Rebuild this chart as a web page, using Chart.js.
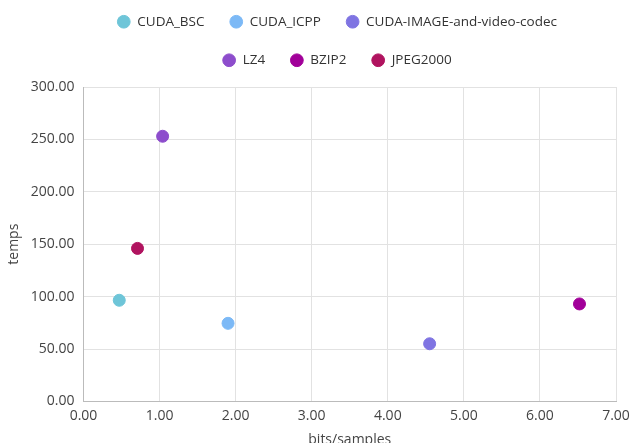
<!DOCTYPE html>
<html>
<head>
<meta charset="utf-8">
<script src="https://cdn.jsdelivr.net/npm/chart.js@4/dist/chart.umd.min.js"></script>
<style>
  html, body { margin: 0; padding: 0; overflow: hidden; background: #fff; }
  #wrap { width: 630px; height: 452px; position: relative; }
</style>
</head>
<body>
<div id="wrap"><canvas id="scatterChart"></canvas></div>
<script>
// Data
const seriesNames = ['CUDA_BSC', 'CUDA_ICPP', 'CUDA-IMAGE-and-video-codec', 'LZ4', 'BZIP2', 'JPEG2000'];
const bitsPerSample = [0.47, 1.90, 4.55, 1.04, 6.52, 0.71];
const temps = [96.5, 74.5, 55.0, 253.0, 93.0, 146.0];
const colors = ['#6ec5d8', '#7cb9f6', '#7f74e2', '#8d4dcc', '#a10099', '#b0135f'];

const xTicks = [0, 1, 2, 3, 4, 5, 6, 7];
const yTicks = [0, 50, 100, 150, 200, 250, 300];

Chart.defaults.font.family = '"Open Sans", "Noto Sans", sans-serif';
Chart.defaults.font.size = 14;
Chart.defaults.color = '#444';

const datasets = seriesNames.map((name, i) => ({
  label: name,
  data: [{ x: bitsPerSample[i], y: temps[i] }],
  backgroundColor: colors[i],
  borderColor: colors[i],
  pointRadius: 6,
  pointHoverRadius: 7
}));

// legend: wrap at a fixed width (3 items per row) and place the rows like the original
const LEGEND_W = 520;
const LEGEND_CX = 337;
const legendLayout = {
  id: 'legendLayout',
  beforeLayout(chart) {
    const lg = chart.legend;
    if (lg && !lg._fixedFit) {
      const origFit = lg.fit;
      lg.fit = function () {
        const mw = this.maxWidth;
        this.maxWidth = LEGEND_W;
        origFit.call(this);
        this.maxWidth = mw;
      };
      lg._fixedFit = true;
    }
  },
  afterLayout(chart) {
    const lg = chart.legend;
    lg.left = LEGEND_CX - LEGEND_W / 2;
    lg.right = LEGEND_CX + LEGEND_W / 2;
    lg.width = LEGEND_W;
    lg.top -= 10; lg.bottom -= 10;
  }
};

const ctx = document.getElementById('scatterChart').getContext('2d');
new Chart(ctx, {
  type: 'scatter',
  data: { datasets },
  plugins: [legendLayout],
  options: {
    responsive: true,
    maintainAspectRatio: false,
    animation: false,
    layout: { padding: { left: 2, right: 0, top: 0, bottom: 0 } },
    plugins: {
      legend: {
        position: 'top',
        fullSize: false,
        labels: {
          usePointStyle: true,
          pointStyle: 'circle',
          boxWidth: 14,
          boxHeight: 9,
          padding: 25,
          color: '#333',
          font: { size: 13.5 }
        }
      },
      tooltip: { enabled: false }
    },
    scales: {
      x: {
        type: 'linear',
        min: xTicks[0],
        max: xTicks[xTicks.length - 1],
        afterBuildTicks: axis => { axis.ticks = xTicks.map(v => ({ value: v })); },
        afterFit: axis => { axis.paddingRight = 14; },
        ticks: { callback: v => v.toFixed(2), color: '#444', padding: 6 },
        grid: { color: '#e2e2e2', drawTicks: false },
        border: { color: '#bbb' },
        title: { display: true, text: 'bits/samples', color: '#444', font: { size: 14 }, padding: { top: 1, bottom: 4 } }
      },
      y: {
        min: yTicks[0],
        max: yTicks[yTicks.length - 1],
        afterBuildTicks: axis => { axis.ticks = yTicks.map(v => ({ value: v })); },
        ticks: { callback: v => v.toFixed(2), color: '#444', padding: 9 },
        grid: { color: '#e2e2e2', drawTicks: false },
        border: { color: '#bbb' },
        title: { display: true, text: 'temps', color: '#444', font: { size: 14 }, padding: { top: 4, bottom: -1 } }
      }
    }
  }
});
</script>
</body>
</html>
